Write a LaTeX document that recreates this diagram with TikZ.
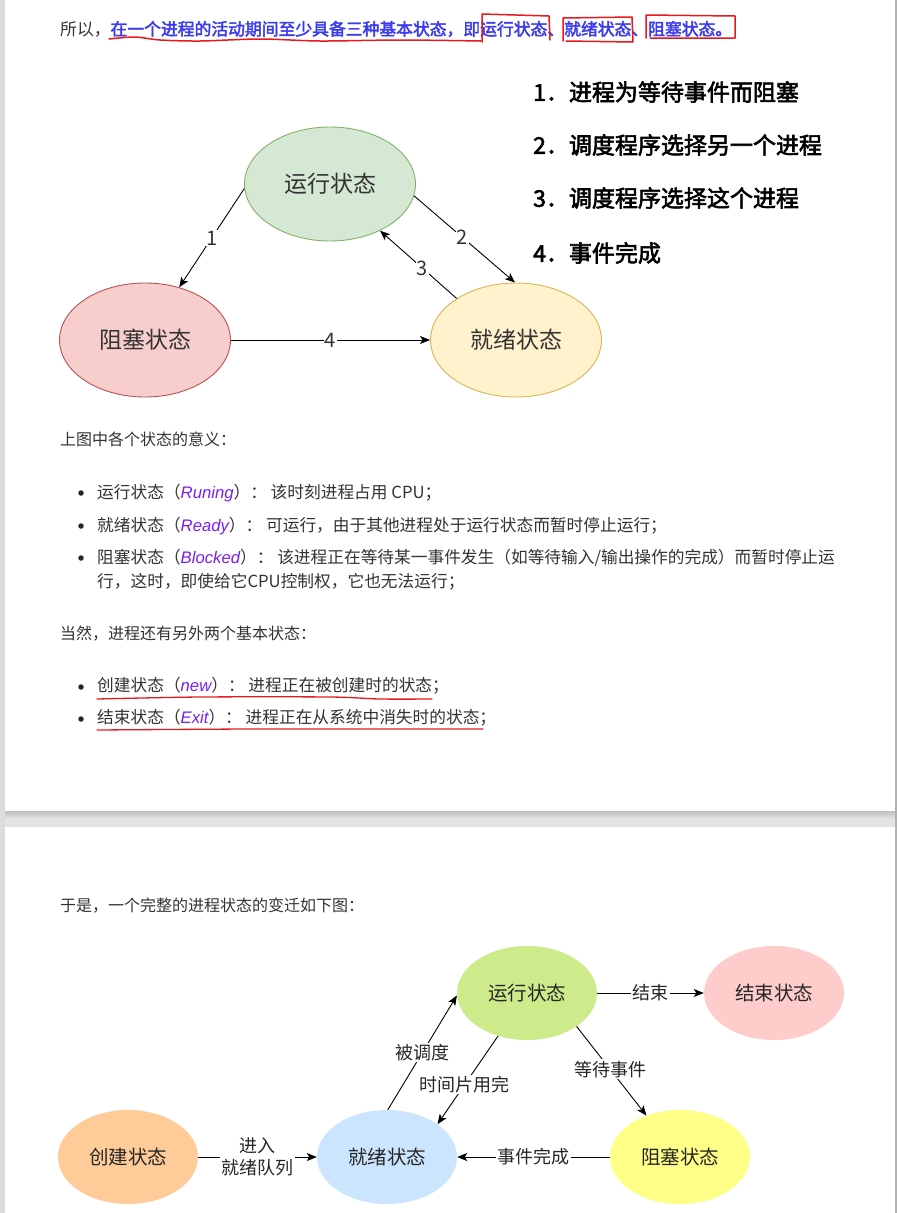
\documentclass[tikz,border=0pt]{standalone}
\usepackage{fontspec}
\setmainfont{Noto Sans CJK SC}
\newfontfamily\cjkb{Noto Sans CJK SC}[FakeBold=2.5]
\newfontfamily\enit{Liberation Sans}
\usetikzlibrary{arrows.meta,shapes.geometric}
\definecolor{txt}{HTML}{333333}
\definecolor{ttlblue}{HTML}{3B3BF0}
\definecolor{purp}{HTML}{7A1FF0}
\definecolor{annot}{HTML}{E8191C}
\definecolor{gfill}{HTML}{D5E8D4}\definecolor{gline}{HTML}{82B366}
\definecolor{rfill}{HTML}{F8CECC}\definecolor{rline}{HTML}{B85450}
\definecolor{yfill}{HTML}{FFF2CC}\definecolor{yline}{HTML}{D6B656}
\definecolor{runc}{HTML}{CDEB8B}
\definecolor{endc}{HTML}{FFCCCC}
\definecolor{newc}{HTML}{FFCC99}
\definecolor{rdyc}{HTML}{CCE5FF}
\definecolor{blkc}{HTML}{FFFF88}
\definecolor{pagegray}{HTML}{DCDCDC}
\newcommand\FS[1]{\fontsize{#1}{#1}\selectfont}
\newcommand\en[1]{{\color{purp}\enit\itshape #1}}
\tikzset{
  para/.style={anchor=west,inner sep=0pt,text=txt,font=\FS{16}},
  bul/.style={circle,fill=black!85,inner sep=0pt,minimum size=5.5pt},
  listtxt/.style={anchor=west,inner sep=0pt,text=black,font=\cjkb\FS{23}},
  st1/.style={ellipse,draw,line width=0.9pt,minimum width=171pt,minimum height=114pt,inner sep=0pt,text=txt,font=\FS{23}},
  st2/.style={ellipse,draw=none,minimum width=140pt,minimum height=94pt,inner sep=0pt,text=black!85,font=\FS{19.5}},
  arr/.style={-{Stealth[length=10pt,width=8pt,inset=2.5pt]},line width=0.9pt,black},
  elab/.style={fill=white,inner sep=1pt,text=txt,font=\FS{20}},
  elab2/.style={fill=white,inner sep=1.5pt,text=black!85,font=\FS{18}},
  redmark/.style={annot,line width=1.5pt,line cap=round,line join=round},
}
\begin{document}
\begin{tikzpicture}[x=1pt,y=-1pt]
\useasboundingbox (0,0) rectangle (897,1213);
% page background
\fill[pagegray] (0,0) rectangle (897,1213);
\fill[white] (5,0) rectangle (895,811);
\fill[white] (5,827) rectangle (895,1213);
\shade[top color=black!25,bottom color=black!10] (5,811) rectangle (895,819);
\fill[black!11] (5,819) rectangle (895,827);
\fill[black!30] (895,0) rectangle (897,1213);

% ---------- page 1 ----------
\node[para,font=\FS{16.8}] (title) at (60,29) {{\color{txt}所以，}{\color{ttlblue}\cjkb 在一个进程的活动期间至少具备三种基本状态，即运行状态、就绪状态、阻塞状态。}};
% red hand annotations
\draw[redmark] plot[smooth] coordinates {(109,39) (135,37) (160,40) (200,41) (260,39) (320,41) (400,40) (481,41)};
\draw[redmark] (482,42) -- (482,14) -- (549,16) -- (550,40);
\draw[redmark] (563,41) -- (563,18) -- (632,17) -- (633,42) -- (566,41);
\draw[redmark] (646,38) -- (646,15) -- (735,16) -- (735,38) -- (650,38);

\node[listtxt] (l1) at (533,92) {1．进程为等待事件而阻塞};
\node[listtxt] (l2) at (533,145) {2．调度程序选择另一个进程};
\node[listtxt] (l3) at (533,198) {3．调度程序选择这个进程};
\node[listtxt] (l4) at (533,253) {4．事件完成};

\node[st1,fill=gfill,draw=gline] (run) at (330,184) {运行状态};
\node[st1,fill=rfill,draw=rline] (blk) at (145,340) {阻塞状态};
\node[st1,fill=yfill,draw=yline] (rdy) at (516,340) {就绪状态};

\draw[arr] (run.183) -- node[elab,pos=0.5] {1} (blk.57);
\draw[arr] (run.-8) -- node[elab,pos=0.48] {2} (rdy.91);
\draw[arr] (rdy.145) -- node[elab,pos=0.45] {3} (run.-43);
\draw[arr] (blk.east) -- node[elab] {4} (rdy.west);

\node[para] (h1) at (60,439) {上图中各个状态的意义：};
\node[bul] (b1) at (81,493) {};
\node[para,font=\FS{16.7}] (t1) at (97,493) {运行状态（\en{Runing}）： 该时刻进程占用 CPU；};
\node[bul] (b2) at (81,526) {};
\node[para,font=\FS{16.7}] (t2) at (97,526) {就绪状态（\en{Ready}）： 可运行，由于其他进程处于运行状态而暂时停止运行；};
\node[bul] (b3) at (81,558) {};
\node[para,font=\FS{16.7}] (t3) at (97,558) {阻塞状态（\en{Blocked}）： 该进程正在等待某一事件发生（如等待输入/输出操作的完成）而暂时停止运};
\node[para,font=\FS{16.7}] (t3b) at (97,582) {行，这时，即使给它CPU控制权，它也无法运行；};

\node[para] (h2) at (60,634) {当然，进程还有另外两个基本状态：};
\node[bul] (b4) at (81,687) {};
\node[para,font=\FS{16.7}] (t4) at (97,686) {创建状态（\en{new}）： 进程正在被创建时的状态；};
\node[bul] (b5) at (81,719) {};
\node[para,font=\FS{16.7}] (t5) at (97,718) {结束状态（\en{Exit}）： 进程正在从系统中消失时的状态；};
\draw[redmark,line width=1.3pt] plot[smooth] coordinates {(97,699) (200,697) (330,697) (380,699) (432,699)};
\draw[redmark,line width=1.3pt] plot[smooth] coordinates {(97,730) (250,729) (400,729) (483,729)};

% ---------- page 2 ----------
\node[para] (h3) at (60,906) {于是，一个完整的进程状态的变迁如下图：};

\node[st2,fill=runc] (run2) at (527,993) {运行状态};
\node[st2,fill=endc] (end2) at (774,993) {结束状态};
\node[st2,fill=newc] (new2) at (128,1157) {创建状态};
\node[st2,fill=rdyc] (rdy2) at (387,1157) {就绪状态};
\node[st2,fill=blkc] (blk2) at (680,1157) {阻塞状态};

\draw[arr] (run2.east) -- node[elab2] {结束} (end2.west);
\draw[arr] (run2.-34) -- node[elab2,pos=0.48] {等待事件} (blk2.129);
\draw[arr] (blk2.west) -- node[elab2] {事件完成} (rdy2.east);
\draw[arr] (new2.east) -- node[elab2,align=center,font=\fontsize{18}{22}\selectfont] {进入\\就绪队列} (rdy2.west);
\draw[arr] (rdy2.89) -- node[elab2,pos=0.5] {被调度} (run2.182);
\draw[arr] (run2.236) -- node[elab2,pos=0.55] {时间片用完} (rdy2.33);
\end{tikzpicture}
\end{document}
